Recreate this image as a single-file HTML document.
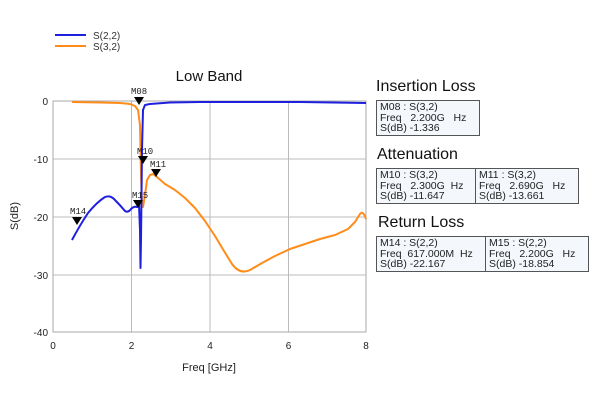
<!DOCTYPE html>
<html><head><meta charset="utf-8"><style>
body{margin:0;background:#fff;width:600px;height:400px;overflow:hidden;font-family:"Liberation Sans","Noto Sans CJK JP",sans-serif}
.h{position:absolute;font-size:16px;color:#111}
.box{position:absolute;border:1px solid #555;background:#f4f8fc;font-size:10.5px;line-height:10.5px;color:#222;padding:1px 3px;box-sizing:border-box}
</style></head><body>
<svg width="600" height="400" style="position:absolute;left:0;top:0" font-family="Liberation Sans, sans-serif">
<line x1="55" y1="35" x2="86" y2="35" stroke="#1f1fe0" stroke-width="2"/>
<text x="93" y="39" font-size="10" fill="#333">S(2,2)</text>
<line x1="55" y1="46" x2="86" y2="46" stroke="#ff8c1a" stroke-width="2"/>
<text x="93" y="50" font-size="10" fill="#333">S(3,2)</text>
<text x="209" y="81" font-size="15" text-anchor="middle" fill="#111">Low Band</text>
<g stroke="#bbb" stroke-width="1">
<line x1="131.5" y1="101" x2="131.5" y2="332"/><line x1="210" y1="101" x2="210" y2="332"/><line x1="288.5" y1="101" x2="288.5" y2="332"/>
<line x1="53" y1="159" x2="366" y2="159"/><line x1="53" y1="217" x2="366" y2="217"/><line x1="53" y1="275" x2="366" y2="275"/>
</g>
<rect x="53" y="101" width="313" height="231" fill="none" stroke="#aaa"/>
<g font-size="10" fill="#222" text-anchor="end">
<text x="48" y="105">0</text><text x="48" y="163">-10</text><text x="48" y="221">-20</text><text x="48" y="279">-30</text><text x="48" y="336">-40</text>
</g>
<g font-size="10" fill="#222" text-anchor="middle">
<text x="53" y="349">0</text><text x="131.5" y="349">2</text><text x="210" y="349">4</text><text x="288.5" y="349">6</text><text x="366" y="349">8</text>
</g>
<text x="209" y="371" font-size="11" text-anchor="middle" fill="#222">Freq [GHz]</text>
<text x="18" y="216" font-size="11" text-anchor="middle" fill="#222" transform="rotate(-90 18 216)">S(dB)</text>
<path d="M72,102 L100,102.5 L120,103 L130,104 L135,106 L138,110 L140,125 L141,175 L142,205 L143,207 L145,195 L147,180 L150,175 L153,174 L157,177 L165,184 L175,190 L185,198 L195,208 L205,221 L215,236 L224,251 L232,264 Q240,275 250,270 L262,263 L275,256 L290,249 L305,244 L320,239 L335,235 L348,229 L355,222 L360,214 Q363,210 366,219" fill="none" stroke="#ff8c1a" stroke-width="2" stroke-linejoin="round"/>
<path d="M72,240 Q80,225 88,213 Q97,202 105,197 Q110,195 114,199 Q120,205 125,211 Q128,213 131,209 Q134,206 137,207 L139,205 L140,230 L140.5,268 L141,240 L142,150 L143,110 L145,105 L150,104 L170,102.5 L200,102 L300,102 L366,103" fill="none" stroke="#1f1fe0" stroke-width="2" stroke-linejoin="round"/>
<g fill="#000">
<path d="M134,97 L144,97 L139,105Z"/>
<path d="M138,156 L148,156 L143,164Z"/>
<path d="M151,169 L161,169 L156,177Z"/>
<path d="M133,200 L143,200 L138,208Z"/>
<path d="M72,217 L82,217 L77,225Z"/>
</g>
<g font-size="9" font-family="Liberation Mono, monospace" fill="#222">
<text x="131" y="94">M08</text><text x="137" y="154">M10</text><text x="150" y="167">M11</text><text x="132" y="198">M15</text><text x="70" y="214">M14</text>
</g>
</svg>
<div class="h" style="left:376px;top:78px">Insertion Loss</div>
<div class="box" style="left:376px;top:100px;width:104px;height:36px">M08 : S(3,2)<br>Freq&nbsp;&nbsp; 2.200G&nbsp;&nbsp; Hz<br>S(dB) -1.336</div>
<div class="h" style="left:377px;top:146px">Attenuation</div>
<div class="box" style="left:376px;top:168px;width:100px;height:36px">M10 : S(3,2)<br>Freq&nbsp;&nbsp; 2.300G&nbsp; Hz<br>S(dB) -11.647</div>
<div class="box" style="left:475px;top:168px;width:104px;height:36px">M11 : S(3,2)<br>Freq&nbsp;&nbsp; 2.690G&nbsp;&nbsp; Hz<br>S(dB) -13.661</div>
<div class="h" style="left:378px;top:214px">Return Loss</div>
<div class="box" style="left:376px;top:236px;width:110px;height:36px">M14 : S(2,2)<br>Freq&nbsp; 617.000M&nbsp; Hz<br>S(dB) -22.167</div>
<div class="box" style="left:485px;top:236px;width:104px;height:36px">M15 : S(2,2)<br>Freq&nbsp;&nbsp; 2.200G&nbsp;&nbsp; Hz<br>S(dB) -18.854</div>
</body></html>
